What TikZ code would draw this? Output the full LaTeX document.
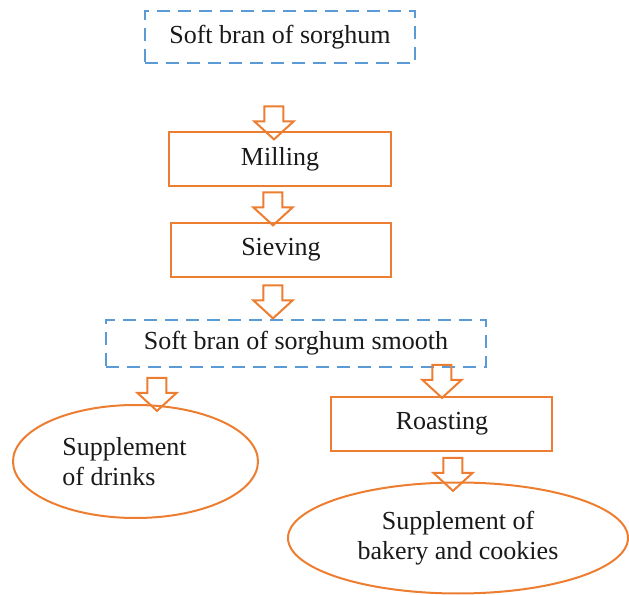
\documentclass[tikz,border=0pt]{standalone}
\usepackage{fontspec}
\setmainfont{Liberation Serif}
\usepackage{tikz}
\usetikzlibrary{shapes.geometric,shapes.arrows}
\definecolor{boxorange}{HTML}{ED7D31}
\definecolor{boxblue}{HTML}{5B9BD5}

\begin{document}
\begin{tikzpicture}[x=0.5pt,y=-0.5pt,
    every node/.style={font=\fontsize{13}{15}\selectfont,text=black!90},
    stepbox/.style={draw=boxorange,line width=1pt,minimum width=111pt,minimum height=27pt,inner sep=0pt},
    matbox/.style={draw=boxblue,line width=1pt,dash pattern=on 6.5pt off 4pt,minimum height=26pt,inner sep=0pt},
    prodell/.style={draw=boxorange,line width=1pt,ellipse,inner sep=0pt,align=center},
    downarr/.style={draw=boxorange,line width=1pt,single arrow,rotate=-90,minimum height=16.5pt,
      inner xsep=0pt,inner ysep=4.25pt,single arrow head extend=5pt,single arrow tip angle=95}]
  \useasboundingbox (0,0) rectangle (629,595);
  \node (bran) at (280,37) [matbox,minimum width=135pt] {Soft bran of sorghum};
  \node (mill) at (280,159) [stepbox] {Milling};
  \node (sieve) at (281,250) [stepbox,minimum width=110pt] {Sieving};
  \node (smooth) at (296,343) [matbox,minimum width=190pt,minimum height=23.5pt] {Soft bran of sorghum smooth};
  \node (roast) at (442,424) [stepbox,minimum width=110.5pt] {Roasting};
  \node (drinks) at (135.5,461.5) [prodell,minimum width=122.5pt,minimum height=56.5pt,align=left] {Supplement\hspace*{11pt}\\of drinks};
  \node (bakery) at (458,538) [prodell,minimum width=170pt,minimum height=55.5pt] {Supplement of\\bakery and cookies};
  % hollow arrows between the steps
  \node (a1) at (274,118.5) [downarr] {};
  \node (a2) at (273,204.5) [downarr] {};
  \node (a3) at (273,297.5) [downarr] {};
  \node (a4) at (157,390) [downarr] {};
  \node (a5) at (442,377) [downarr] {};
  \node (a6) at (453,470) [downarr] {};
\end{tikzpicture}
\end{document}
